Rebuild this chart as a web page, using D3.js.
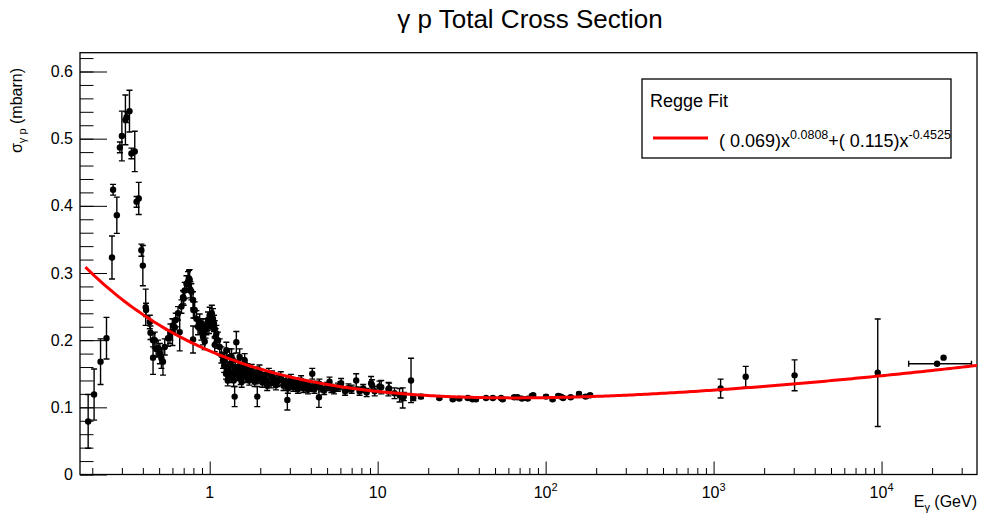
<!DOCTYPE html>
<html>
<head>
<meta charset="utf-8">
<script src="https://cdn.jsdelivr.net/npm/d3@7"></script>
<style>
body { margin: 0; background: #fff; }
text { font-family: "Liberation Sans", Arial, sans-serif; fill: #000; }
</style>
</head>
<body>
<script>
var w = 982;
var h = 517;

// photoproduction data, [E (GeV), sigma (mbarn), error]
var lowEnergy = [
[0.189, 0.079, 0.040],
[0.205, 0.119, 0.038],
[0.224, 0.168, 0.034],
[0.243, 0.203, 0.031],
[0.262, 0.323, 0.032],
[0.266, 0.424, 0.008],
[0.280, 0.386, 0.027],
[0.292, 0.487, 0.008],
[0.300, 0.504, 0.037],
[0.315, 0.528, 0.037],
[0.320, 0.532, 0.008],
[0.333, 0.541, 0.031],
[0.342, 0.478, 0.008],
[0.358, 0.481, 0.030],
[0.367, 0.406, 0.008],
[0.378, 0.411, 0.024],
[0.392, 0.334, 0.009],
[0.400, 0.311, 0.030]
];

var resonance = [
[0.416, 0.249, 0.027],
[0.418, 0.245, 0.010],
[0.440, 0.227, 0.010],
[0.444, 0.211, 0.010],
[0.460, 0.200, 0.010],
[0.460, 0.174, 0.025],
[0.471, 0.200, 0.012],
[0.480, 0.187, 0.012],
[0.493, 0.188, 0.012],
[0.505, 0.180, 0.015],
[0.516, 0.173, 0.015],
[0.527, 0.168, 0.020],
[0.540, 0.190, 0.012],
[0.565, 0.203, 0.012],
[0.580, 0.205, 0.010],
[0.584, 0.212, 0.012],
[0.600, 0.212, 0.020],
[0.605, 0.222, 0.010],
[0.620, 0.219, 0.010],
[0.628, 0.230, 0.010],
[0.648, 0.240, 0.010],
[0.663, 0.212, 0.028],
[0.679, 0.250, 0.010],
[0.694, 0.264, 0.010],
[0.700, 0.262, 0.010],
[0.710, 0.274, 0.012],
[0.727, 0.284, 0.012],
[0.743, 0.287, 0.015],
[0.753, 0.292, 0.012],
[0.760, 0.290, 0.015],
[0.768, 0.275, 0.012],
[0.778, 0.272, 0.012],
[0.796, 0.260, 0.012],
[0.800, 0.245, 0.012],
[0.796, 0.201, 0.020],
[0.814, 0.245, 0.012],
[0.834, 0.232, 0.012],
[0.852, 0.220, 0.012],
[0.872, 0.227, 0.012],
[0.893, 0.212, 0.012],
[0.912, 0.205, 0.012],
[0.912, 0.222, 0.010],
[0.934, 0.198, 0.012],
[0.945, 0.215, 0.012],
[0.956, 0.220, 0.012],
[0.977, 0.230, 0.012],
[0.990, 0.222, 0.012],
[1.000, 0.237, 0.012],
[1.023, 0.227, 0.012],
[1.030, 0.240, 0.012],
[1.046, 0.232, 0.015],
[1.060, 0.225, 0.012],
[1.071, 0.217, 0.012],
[1.071, 0.193, 0.010],
[1.085, 0.205, 0.012],
[1.096, 0.210, 0.012],
[1.120, 0.200, 0.012],
[1.147, 0.190, 0.012],
[1.174, 0.178, 0.012],
[1.200, 0.170, 0.012],
[1.257, 0.185, 0.012],
[1.315, 0.175, 0.012],
[1.375, 0.170, 0.010],
[1.441, 0.197, 0.016],
[1.508, 0.175, 0.012],
[1.615, 0.170, 0.010]
];

var midEnergy = [
[1.22, 0.162, 0.010], [1.23, 0.170, 0.010], [1.25, 0.150, 0.008],
[1.27, 0.158, 0.009], [1.28, 0.140, 0.008], [1.30, 0.145, 0.008],
[1.33, 0.165, 0.010], [1.35, 0.175, 0.012], [1.36, 0.152, 0.008],
[1.39, 0.140, 0.009], [1.40, 0.150, 0.008], [1.408, 0.116, 0.015],
[1.42, 0.160, 0.010], [1.46, 0.148, 0.008], [1.48, 0.160, 0.010],
[1.50, 0.155, 0.009], [1.53, 0.142, 0.008], [1.55, 0.138, 0.008],
[1.57, 0.163, 0.010], [1.60, 0.150, 0.008], [1.62, 0.158, 0.009],
[1.64, 0.145, 0.008], [1.68, 0.156, 0.009], [1.70, 0.148, 0.008],
[1.72, 0.140, 0.007], [1.76, 0.150, 0.008], [1.78, 0.155, 0.009],
[1.80, 0.147, 0.008], [1.85, 0.138, 0.007], [1.88, 0.142, 0.007],
[1.90, 0.152, 0.008], [1.92, 0.116, 0.015], [1.95, 0.143, 0.007],
[1.98, 0.155, 0.008], [2.00, 0.148, 0.008], [2.06, 0.137, 0.007],
[2.08, 0.143, 0.007], [2.12, 0.145, 0.007], [2.18, 0.140, 0.008],
[2.20, 0.132, 0.007], [2.25, 0.150, 0.008], [2.32, 0.136, 0.007],
[2.35, 0.146, 0.008], [2.40, 0.143, 0.007], [2.48, 0.133, 0.007],
[2.52, 0.138, 0.007], [2.56, 0.140, 0.007], [2.65, 0.145, 0.008],
[2.70, 0.140, 0.007], [2.75, 0.132, 0.007], [2.85, 0.139, 0.007],
[2.90, 0.111, 0.015], [2.92, 0.128, 0.007], [2.95, 0.135, 0.006],
[3.05, 0.142, 0.007], [3.10, 0.136, 0.007], [3.15, 0.130, 0.006],
[3.25, 0.137, 0.007], [3.35, 0.127, 0.006], [3.38, 0.133, 0.006],
[3.50, 0.140, 0.007], [3.60, 0.135, 0.006], [3.62, 0.128, 0.006],
[3.75, 0.134, 0.006], [3.85, 0.126, 0.006], [3.90, 0.131, 0.006],
[4.08, 0.150, 0.008], [4.10, 0.130, 0.006], [4.20, 0.127, 0.006],
[4.35, 0.133, 0.006], [4.47, 0.115, 0.015], [4.50, 0.135, 0.007],
[4.60, 0.129, 0.006], [4.80, 0.125, 0.006], [5.00, 0.131, 0.006],
[5.17, 0.138, 0.007], [5.30, 0.128, 0.006], [5.50, 0.126, 0.006],
[5.80, 0.130, 0.006], [6.00, 0.132, 0.006], [6.06, 0.136, 0.007],
[6.40, 0.124, 0.006], [6.70, 0.129, 0.006], [7.00, 0.127, 0.006],
[7.45, 0.140, 0.010], [7.80, 0.124, 0.006], [8.20, 0.128, 0.006],
[8.60, 0.122, 0.006], [9.14, 0.136, 0.010], [9.26, 0.133, 0.008],
[9.60, 0.124, 0.007]
];

var highEnergy = [
[10.25, 0.131, 0.008], [10.5, 0.130, 0.010], [11.6, 0.127, 0.010],
[11.7, 0.128, 0.008], [12.6, 0.121, 0.008], [13.5, 0.118, 0.010],
[14.1, 0.114, 0.015], [14.3, 0.116, 0.006], [15.8, 0.140, 0.033],
[16.3, 0.114, 0.004], [18.1, 0.116, 0.003],
[23.3, 0.114, 0.002], [28.0, 0.112, 0.002], [30.6, 0.113, 0.002],
[34.4, 0.114, 0.002], [36.7, 0.112, 0.002], [38.5, 0.112, 0.002],
[44.2, 0.114, 0.002], [48.5, 0.114, 0.002], [54.3, 0.114, 0.002],
[55.5, 0.112, 0.002], [65.0, 0.115, 0.002], [68.0, 0.115, 0.002],
[72.3, 0.113, 0.002], [78.2, 0.113, 0.002], [82.8, 0.117, 0.002],
[84.3, 0.118, 0.002], [100.6, 0.116, 0.002], [110, 0.112, 0.002],
[119, 0.117, 0.002], [123, 0.116, 0.002], [127, 0.114, 0.002],
[141, 0.115, 0.002], [158, 0.120, 0.002], [173, 0.116, 0.002],
[184, 0.118, 0.002]
];

// collider / cosmic ray points, [E, sigma, error, E low, E high]
var veryHighEnergy = [
[1101, 0.128, 0.014, 1101, 1101],
[1553, 0.1455, 0.0155, 1553, 1553],
[3035, 0.1476, 0.023, 3035, 3035],
[9490, 0.1515, 0.080, 9490, 9490],
[21400, 0.165, 0, 14500, 34300],
[23400, 0.174, 0, 23400, 23400]
];

// Regge fit parameters
var fitParams = [0.069, 0.0808, 0.115, -0.4525];
var fitRange = [0.182, 37000];

var yMajorTicks = [0, 0.1, 0.2, 0.3, 0.4, 0.5, 0.6];
var xMajorTicks = [1, 10, 100, 1000, 10000];
var xTickBase = ["1", "10", "10", "10", "10"];
var xTickExp = ["", "", "2", "3", "4"];

var frame = {left: 80, right: 977, top: 52.7, bottom: 474.5};

var svg = d3.select("body")
  .append("svg")
  .attr("width", w)
  .attr("height", h);

var x = d3.scaleLog()
  .domain([0.169, 37000])
  .range([frame.left, frame.right]);

var y = d3.scaleLinear()
  .domain([0, 0.628])
  .range([frame.bottom, frame.top]);

svg.append("clipPath").attr("id", "clip")
  .append("rect")
  .attr("x", frame.left)
  .attr("y", frame.top)
  .attr("width", frame.right - frame.left)
  .attr("height", frame.bottom - frame.top);

//minor ticks
var yMinor = d3.range(0, 0.625, 0.02);
var xMinor = [];
[-1, 0, 1, 2, 3, 4].forEach(function(p) {
  for (var k = 2; k <= 9; k++) {
    var v = k * Math.pow(10, p);
    if (v > 0.169 && v < 37000) xMinor.push(v);
  }
});

svg.append("g")
  .attr("transform", "translate(" + frame.left + ",0)")
  .call(d3.axisLeft(y).tickValues(yMinor).tickSize(-13.5).tickSizeOuter(0).tickFormat(""));

svg.append("g")
  .attr("class", "yaxis")
  .attr("transform", "translate(" + frame.left + ",0)")
  .call(d3.axisLeft(y).tickValues(yMajorTicks).tickSize(-27).tickSizeOuter(0).tickPadding(7)
    .tickFormat(function(d) { return d3.format("")(d); }));

svg.append("g")
  .attr("transform", "translate(0," + frame.bottom + ")")
  .call(d3.axisBottom(x).tickValues(xMinor).tickSize(-6.5).tickSizeOuter(0).tickFormat(""));

var xAxisG = svg.append("g")
  .attr("class", "xaxis")
  .attr("transform", "translate(0," + frame.bottom + ")")
  .call(d3.axisBottom(x).tickValues(xMajorTicks).tickSize(-13).tickSizeOuter(0).tickFormat(""));

svg.selectAll(".tick line").attr("stroke", "#000").attr("stroke-width", 1);
svg.selectAll(".domain").remove();
svg.selectAll(".yaxis text").style("font-size", "16px").attr("fill", "#000")
  .attr("font-family", "Liberation Sans, Arial, sans-serif");

//x tick labels with exponents
xMajorTicks.forEach(function(v, i) {
  var t = svg.append("text")
    .attr("x", x(v))
    .attr("y", 498)
    .attr("text-anchor", "middle")
    .style("font-size", "16px")
    .text(xTickBase[i]);
  if (xTickExp[i]) {
    t.append("tspan").attr("dy", -7).style("font-size", "11px").text(xTickExp[i]);
  }
});

//frame
svg.append("rect")
  .attr("x", frame.left)
  .attr("y", frame.top)
  .attr("width", frame.right - frame.left)
  .attr("height", frame.bottom - frame.top)
  .attr("fill", "none")
  .attr("stroke", "#000")
  .attr("stroke-width", 1.3);

//data points with error bars
var allPoints = lowEnergy.concat(resonance, midEnergy, highEnergy).map(function(d) {
  return {e: d[0], s: d[1], err: d[2], lo: d[0], hi: d[0]};
}).concat(veryHighEnergy.map(function(d) {
  return {e: d[0], s: d[1], err: d[2], lo: d[3], hi: d[4]};
}));

var cap = 3;
var pts = svg.append("g").attr("clip-path", "url(#clip)");

pts.selectAll("g.pt")
  .data(allPoints)
  .enter()
  .append("g")
  .attr("class", "pt")
  .each(function(d) {
    var g = d3.select(this);
    var cx = x(d.e), cy = y(d.s);
    if (d.err > 0) {
      var y1 = y(d.s + d.err), y2 = y(d.s - d.err);
      g.append("line").attr("x1", cx).attr("x2", cx).attr("y1", y1).attr("y2", y2);
      g.append("line").attr("x1", cx - cap).attr("x2", cx + cap).attr("y1", y1).attr("y2", y1);
      g.append("line").attr("x1", cx - cap).attr("x2", cx + cap).attr("y1", y2).attr("y2", y2);
    }
    if (d.hi > d.lo) {
      var x1 = x(d.lo), x2 = x(d.hi);
      g.append("line").attr("x1", x1).attr("x2", x2).attr("y1", cy).attr("y2", cy);
      g.append("line").attr("x1", x1).attr("x2", x1).attr("y1", cy - cap).attr("y2", cy + cap);
      g.append("line").attr("x1", x2).attr("x2", x2).attr("y1", cy - cap).attr("y2", cy + cap);
    }
    g.append("circle").attr("cx", cx).attr("cy", cy).attr("r", 3.2).attr("fill", "#000");
  });

pts.selectAll("line").attr("stroke", "#000").attr("stroke-width", 1.4);

//Regge fit curve
function regge(e) {
  return fitParams[0] * Math.pow(e, fitParams[1]) + fitParams[2] * Math.pow(e, fitParams[3]);
}
var samples = [];
var lmin = Math.log10(fitRange[0]), lmax = Math.log10(fitRange[1]);
for (var i = 0; i <= 300; i++) {
  samples.push(Math.pow(10, lmin + (lmax - lmin) * i / 300));
}
var line = d3.line()
  .x(function(e) { return x(e); })
  .y(function(e) { return y(regge(e)); });

svg.append("path")
  .datum(samples)
  .attr("clip-path", "url(#clip)")
  .attr("d", line)
  .attr("fill", "none")
  .attr("stroke", "#ff0000")
  .attr("stroke-width", 3);

//title
svg.append("text")
  .attr("x", 530)
  .attr("y", 28)
  .attr("text-anchor", "middle")
  .style("font-size", "26px")
  .text("\u03b3 p Total Cross Section");

//y axis title
var yt = svg.append("text")
  .attr("transform", "translate(22,68) rotate(-90)")
  .attr("text-anchor", "end")
  .style("font-size", "16px")
  .text("\u03c3");
yt.append("tspan").attr("dy", 4).style("font-size", "11px").text("\u03b3 p");
yt.append("tspan").attr("dy", -4).text(" (mbarn)");

//x axis title
var xt = svg.append("text")
  .attr("x", 977)
  .attr("y", 507)
  .attr("text-anchor", "end")
  .style("font-size", "16px")
  .text("E");
xt.append("tspan").attr("dy", 4).style("font-size", "11px").text("\u03b3");
xt.append("tspan").attr("dy", -4).text(" (GeV)");

//legend
var leg = svg.append("g");
leg.append("rect")
  .attr("x", 642).attr("y", 79)
  .attr("width", 309).attr("height", 79)
  .attr("fill", "#fff")
  .attr("stroke", "#000")
  .attr("stroke-width", 1.3);
leg.append("text")
  .attr("x", 650).attr("y", 107)
  .style("font-size", "18px")
  .text("Regge Fit");
leg.append("line")
  .attr("x1", 653).attr("x2", 708)
  .attr("y1", 138).attr("y2", 138)
  .attr("stroke", "#ff0000")
  .attr("stroke-width", 3);
var ft = leg.append("text")
  .attr("x", 719).attr("y", 147)
  .style("font-size", "18px")
  .text("( " + fitParams[0].toFixed(3) + ")x");
ft.append("tspan").attr("dy", -8).style("font-size", "12.5px").text(fitParams[1].toFixed(4));
ft.append("tspan").attr("dy", 8).text("+( " + fitParams[2].toFixed(3) + ")x");
ft.append("tspan").attr("dy", -8).style("font-size", "12.5px").text(fitParams[3].toFixed(4));
</script>
</body>
</html>
